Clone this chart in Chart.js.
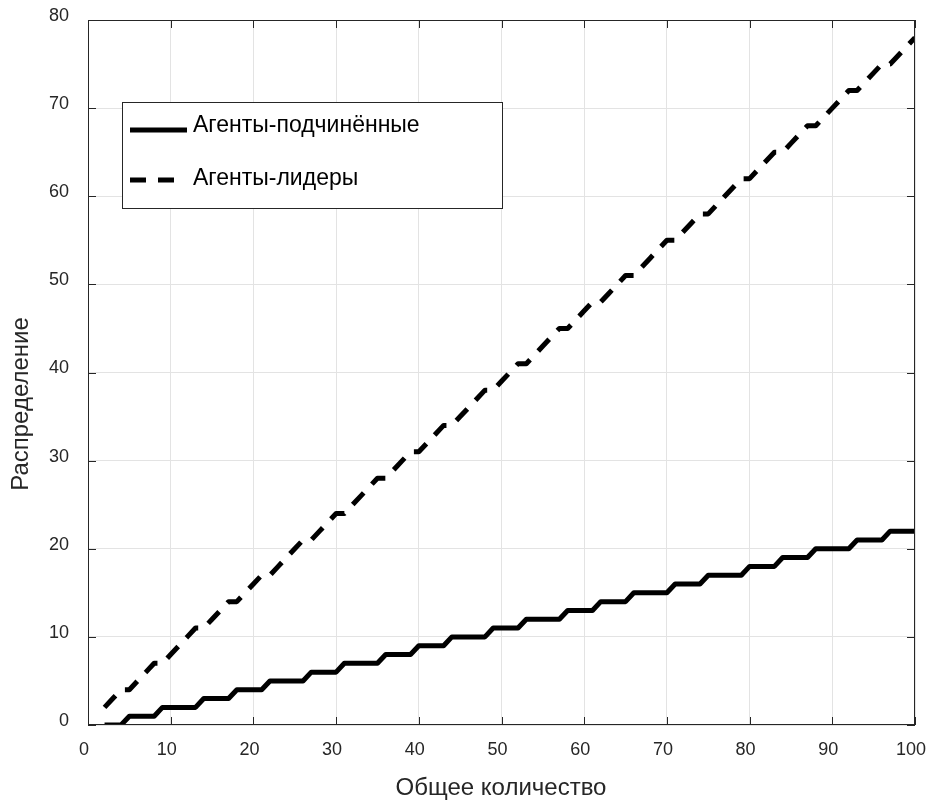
<!DOCTYPE html>
<html>
<head>
<meta charset="utf-8">
<script src="https://cdn.jsdelivr.net/npm/chart.js@4.4.0/dist/chart.umd.min.js"></script>
<style>
  html, body { margin: 0; padding: 0; background: #fff; }
</style>
</head>
<body>
<canvas id="chart" width="928" height="809"></canvas>
<script>
// total number of agents (x)
const totalCount = [2, 3, 4, 5, 6, 7, 8, 9, 10, 11, 12, 13, 14, 15, 16, 17, 18, 19, 20,
  21, 22, 23, 24, 25, 26, 27, 28, 29, 30, 31, 32, 33, 34, 35, 36, 37, 38, 39, 40,
  41, 42, 43, 44, 45, 46, 47, 48, 49, 50, 51, 52, 53, 54, 55, 56, 57, 58, 59, 60,
  61, 62, 63, 64, 65, 66, 67, 68, 69, 70, 71, 72, 73, 74, 75, 76, 77, 78, 79, 80,
  81, 82, 83, 84, 85, 86, 87, 88, 89, 90, 91, 92, 93, 94, 95, 96, 97, 98, 99, 100];

// followers
const followers = [0, 0, 0, 1, 1, 1, 1, 2, 2, 2, 2, 2, 3, 3, 3, 3, 4, 4, 4,
  4, 5, 5, 5, 5, 5, 6, 6, 6, 6, 7, 7, 7, 7, 7, 8, 8, 8, 8, 9,
  9, 9, 9, 10, 10, 10, 10, 10, 11, 11, 11, 11, 12, 12, 12, 12, 12, 13, 13, 13,
  13, 14, 14, 14, 14, 15, 15, 15, 15, 15, 16, 16, 16, 16, 17, 17, 17, 17, 17, 18,
  18, 18, 18, 19, 19, 19, 19, 20, 20, 20, 20, 20, 21, 21, 21, 21, 22, 22, 22, 22];

// leaders
const leaders = [2, 3, 4, 4, 5, 6, 7, 7, 8, 9, 10, 11, 11, 12, 13, 14, 14, 15, 16,
  17, 17, 18, 19, 20, 21, 21, 22, 23, 24, 24, 25, 26, 27, 28, 28, 29, 30, 31, 31,
  32, 33, 34, 34, 35, 36, 37, 38, 38, 39, 40, 41, 41, 42, 43, 44, 45, 45, 46, 47,
  48, 48, 49, 50, 51, 51, 52, 53, 54, 55, 55, 56, 57, 58, 58, 59, 60, 61, 62, 62,
  63, 64, 65, 65, 66, 67, 68, 68, 69, 70, 71, 72, 72, 73, 74, 75, 75, 76, 77, 78];

const seriesNames = ["Агенты-подчинённые", "Агенты-лидеры"];
const xTitle = "Общее количество";
const yTitle = "Распределение";

const FONT = "'Liberation Sans', Arial, sans-serif";
const AXIS_COLOR = "#262626";
const DASH = [16, 12];

function toPoints(values) {
  return totalCount.map((x, i) => ({ x: x, y: values[i] }));
}

// frame, inward ticks, legend box, axis titles
const matlabLook = {
  id: "matlabLook",
  afterDraw(chart) {
    const ctx = chart.ctx;
    const a = chart.chartArea;
    const xs = chart.scales.x;
    const ys = chart.scales.y;
    ctx.save();

    // box
    ctx.strokeStyle = AXIS_COLOR;
    ctx.lineWidth = 1;
    ctx.strokeRect(a.left + 0.5, a.top + 0.5, a.right - a.left - 1, a.bottom - a.top - 1);

    // ticks pointing in
    ctx.beginPath();
    xs.ticks.forEach((t) => {
      const px = Math.round(xs.getPixelForValue(t.value)) + 0.5;
      ctx.moveTo(px, a.bottom);
      ctx.lineTo(px, a.bottom - 8);
      ctx.moveTo(px, a.top);
      ctx.lineTo(px, a.top + 8);
    });
    ys.ticks.forEach((t) => {
      const py = Math.round(ys.getPixelForValue(t.value)) + 0.5;
      ctx.moveTo(a.left, py);
      ctx.lineTo(a.left + 8, py);
      ctx.moveTo(a.right, py);
      ctx.lineTo(a.right - 8, py);
    });
    ctx.stroke();

    // legend
    const lx = 122, ly = 102, lw = 380, lh = 106;
    ctx.fillStyle = "#fff";
    ctx.fillRect(lx, ly, lw, lh);
    ctx.strokeStyle = AXIS_COLOR;
    ctx.lineWidth = 1;
    ctx.strokeRect(lx + 0.5, ly + 0.5, lw, lh);

    const lineRows = [130, 180];
    const lineEnds = [187, 176];
    const textRows = [126, 179];
    chart.data.datasets.forEach((ds, i) => {
      ctx.beginPath();
      ctx.strokeStyle = ds.borderColor;
      ctx.lineWidth = ds.borderWidth;
      ctx.lineCap = "butt";
      ctx.setLineDash(ds.borderDash || []);
      ctx.moveTo(130, lineRows[i]);
      ctx.lineTo(lineEnds[i], lineRows[i]);
      ctx.stroke();
      ctx.setLineDash([]);
      ctx.fillStyle = "#000";
      ctx.font = "23px " + FONT;
      ctx.textAlign = "left";
      ctx.textBaseline = "middle";
      ctx.fillText(ds.label, 193, textRows[i]);
    });

    // axis titles
    ctx.fillStyle = AXIS_COLOR;
    ctx.font = "24px " + FONT;
    ctx.textAlign = "center";
    ctx.textBaseline = "middle";
    ctx.fillText(xTitle, 501, 788);
    ctx.translate(21, 404);
    ctx.rotate(-Math.PI / 2);
    ctx.fillText(yTitle, 0, 0);

    ctx.restore();
  },
};

new Chart(document.getElementById("chart"), {
  type: "line",
  data: {
    datasets: [
      {
        label: seriesNames[0],
        data: toPoints(followers),
        borderColor: "#000",
        borderWidth: 5,
        pointRadius: 0,
        borderJoinStyle: "round",
        tension: 0,
      },
      {
        label: seriesNames[1],
        data: toPoints(leaders),
        borderColor: "#000",
        borderWidth: 5,
        borderDash: DASH,
        pointRadius: 0,
        borderJoinStyle: "round",
        tension: 0,
      },
    ],
  },
  options: {
    responsive: false,
    animation: false,
    layout: { padding: { top: 20, right: 13, left: 0, bottom: 0 } },
    plugins: {
      legend: { display: false },
      tooltip: { enabled: false },
    },
    scales: {
      x: {
        type: "linear",
        min: 0,
        max: 100,
        ticks: {
          stepSize: 10,
          color: AXIS_COLOR,
          font: { family: FONT, size: 18 },
          padding: 14,
          labelOffset: -4,
          maxRotation: 0,
        },
        grid: { color: "#e3e3e3", drawTicks: false },
        border: { display: false },
        afterFit(scale) {
          scale.height = 84;
          scale.paddingLeft = 0;
          scale.paddingRight = 0;
        },
      },
      y: {
        type: "linear",
        min: 0,
        max: 80,
        ticks: {
          stepSize: 10,
          color: AXIS_COLOR,
          font: { family: FONT, size: 18 },
          padding: 19,
          labelOffset: -4,
        },
        grid: { color: "#e3e3e3", drawTicks: false },
        border: { display: false },
        afterFit(scale) {
          scale.width = 88;
          scale.paddingTop = 0;
          scale.paddingBottom = 0;
        },
      },
    },
  },
  plugins: [matlabLook],
});
</script>
</body>
</html>
